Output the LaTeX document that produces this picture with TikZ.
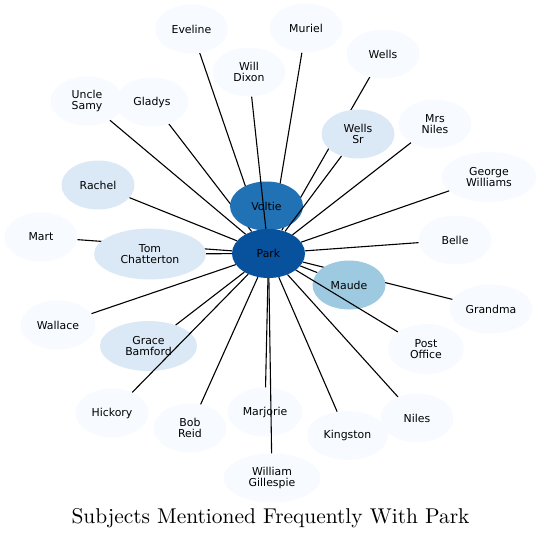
\documentclass[tikz,border=0pt]{standalone}
\usepackage{fontspec}
\newfontfamily\nodefont{DejaVu Sans}
\newfontfamily\titlefont{lmroman10-regular}[Extension=.otf]
\usetikzlibrary{shapes.geometric}
\pgfdeclarelayer{bg}
\pgfsetlayers{bg,main}
\definecolor{cA}{HTML}{F7FBFF}
\definecolor{cB}{HTML}{DBE9F6}
\definecolor{cC}{HTML}{9ECAE1}
\definecolor{cD}{HTML}{2171B5}
\definecolor{cE}{HTML}{08519C}
\begin{document}
\begin{tikzpicture}[x=1pt,y=-1pt,
  nd/.style={ellipse, inner sep=0pt, minimum width=73pt, minimum height=49pt,
    fill=cA, font=\nodefont\fontsize{10.9}{11.7}\selectfont, align=center, text=black},
  lvA/.style={fill=cB},
  lvB/.style={fill=cC},
  lvC/.style={fill=cD},
  lvD/.style={fill=cE},
  edge/.style={draw=black, line width=1.1pt}]
\useasboundingbox (0,0) rectangle (542,538);

% nodes
\node[nd] (eveline) at (191.5,29) {Eveline};
\node[nd] (muriel) at (306,28) {Muriel};
\node[nd] (willdixon) at (249,72) {Will\\Dixon};
\node[nd] (wells) at (383,54) {Wells};
\node[nd] (unclesamy) at (87,101) {Uncle\\Samy};
\node[nd] (gladys) at (152,102) {Gladys};
\node[nd] (mrsniles) at (435,124) {Mrs\\Niles};
\node[nd,lvA] (wellssr) at (358,134) {Wells\\Sr};
\node[nd,lvA] (rachel) at (98,185) {Rachel};
\node[nd,minimum width=95pt,minimum height=50pt] (george) at (489,177) {George\\Williams};
\node[nd] (mart) at (41,237) {Mart};
\node[nd,lvA,minimum width=112pt,minimum height=51pt] (tom) at (150,254) {Tom\\Chatterton};
\node[nd] (belle) at (455,240) {Belle};
\node[nd,lvB] (maude) at (349,285) {Maude};
\node[nd,minimum width=83pt] (grandma) at (491,309) {Grandma};
\node[nd,minimum width=75pt] (wallace) at (58,325) {Wallace};
\node[nd,lvA,minimum width=97pt,minimum height=50pt] (grace) at (148.5,346) {Grace\\Bamford};
\node[nd,minimum width=76pt,minimum height=50pt] (postoffice) at (426,349) {Post\\Office};
\node[nd] (hickory) at (112,413) {Hickory};
\node[nd] (bobreid) at (190,428) {Bob\\Reid};
\node[nd,minimum width=75pt] (marjorie) at (265,412) {Marjorie};
\node[nd] (niles) at (417,418) {Niles};
\node[nd,minimum width=81pt] (kingston) at (347.5,435.5) {Kingston};
\node[nd,minimum width=97pt] (gillespie) at (272,478) {William\\Gillespie};
\node[nd,lvC] (voltie) at (266.5,206) {Voltie};
\node[nd,lvD] (park) at (268.5,253.5) {Park};

% edges hidden behind other nodes
\begin{pgfonlayer}{bg}
\draw[edge] (park) -- (voltie);
\draw[edge] (park) -- (eveline);
\draw[edge] (park) -- (muriel);
\draw[edge] (park) -- (gladys);
\draw[edge] (park) -- (wells);
\draw[edge] (park) -- (mart);
\draw[edge] (park) -- (grandma);
\end{pgfonlayer}

% edges drawn on top
\draw[edge] (park) -- (willdixon);
\draw[edge] (park) -- (unclesamy);
\draw[edge] (park) -- (mrsniles);
\draw[edge] (park) -- (wellssr);
\draw[edge] (park) -- (rachel);
\draw[edge] (park) -- (george);
\draw[edge] (park) -- (tom);
\draw[edge] (park) -- (belle);
\draw[edge] (park) -- (maude);
\draw[edge] (park) -- (wallace);
\draw[edge] (park) -- (grace);
\draw[edge] (park) -- (postoffice);
\draw[edge] (park) -- (hickory);
\draw[edge] (park) -- (bobreid);
\draw[edge] (park) -- (marjorie);
\draw[edge] (park) -- (niles);
\draw[edge] (park) -- (kingston);
\draw[edge] (park) -- (gillespie);

\node[anchor=base, font=\titlefont\fontsize{21.4}{26}\selectfont, inner sep=0pt] (title) at (270.5,523) {Subjects Mentioned Frequently With Park};
\end{tikzpicture}
\end{document}
